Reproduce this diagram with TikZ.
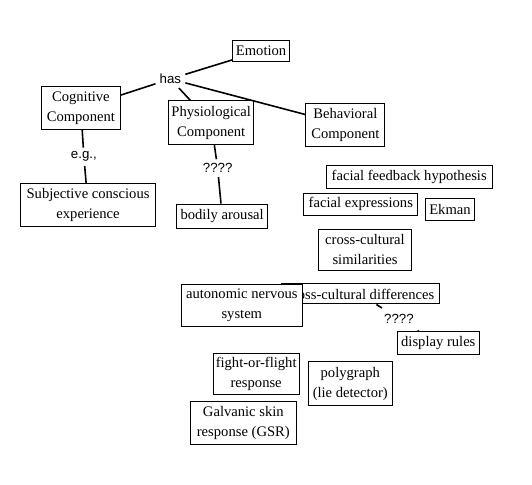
\documentclass[tikz,border=0pt]{standalone}
\usepackage{fontspec}
\setmainfont{Liberation Serif}
\newfontfamily\linkfont{Liberation Sans}
\begin{document}
\begin{tikzpicture}[concept/.style={draw, rectangle, fill=white, line width=0.75pt, align=center, inner sep=2pt, font=\fontsize{11}{15}\selectfont},
  linkword/.style={inner sep=3pt, font=\linkfont\fontsize{10}{12}\selectfont},
  conn/.style={line width=1.2pt}]
\useasboundingbox (0,0) rectangle (14.08,-12.83);
\node[concept, minimum width=1.50cm, minimum height=0.57cm] (emotion) at (6.91,-1.35) {Emotion};
\node[linkword] (has) at (4.51,-2.09) {has};
\node[concept, minimum width=2.10cm, minimum height=1.13cm] (cognitive) at (2.14,-2.86) {Cognitive\\Component};
\node[concept, minimum width=2.22cm, minimum height=1.16cm] (physio) at (5.59,-3.25) {Physiological\\Component};
\node[concept, minimum width=2.09cm, minimum height=1.15cm] (behavior) at (9.14,-3.31) {Behavioral\\Component};
\node[linkword] (eg) at (2.22,-4.15) {e.g.,};
\node[concept, minimum width=3.57cm, minimum height=1.13cm] (subjective) at (2.33,-5.43) {Subjective conscious\\experience};
\node[linkword] (qphysio) at (5.76,-4.45) {????};
\node[concept, minimum width=2.41cm, minimum height=0.64cm] (arousal) at (5.88,-5.72) {bodily arousal};
\node[concept, minimum width=4.40cm, minimum height=0.62cm] (feedback) at (10.83,-4.68) {facial feedback hypothesis};
\node[concept, minimum width=3.01cm, minimum height=0.59cm] (expressions) at (9.55,-5.41) {facial expressions};
\node[concept, minimum width=1.32cm, minimum height=0.59cm] (ekman) at (11.91,-5.54) {Ekman};
\node[concept, minimum width=2.47cm, minimum height=1.08cm] (similar) at (9.66,-6.61) {cross-cultural\\similarities};
\node[concept, minimum width=4.18cm, minimum height=0.53cm] (differ) at (9.54,-7.78) {cross-cultural differences};
\node[concept, minimum width=3.19cm, minimum height=1.10cm] (ans) at (6.40,-8.09) {autonomic nervous\\system};
\node[linkword, minimum height=0.58cm] (qdiffer) at (10.56,-8.45) {????};
\node[concept, minimum width=2.16cm, minimum height=0.60cm] (display) at (11.60,-9.08) {display rules};
\node[concept, minimum width=2.22cm, minimum height=1.08cm] (fight) at (6.78,-9.89) {fight-or-flight\\response};
\node[concept, minimum width=2.23cm, minimum height=1.17cm] (polygraph) at (9.27,-10.16) {polygraph\\(lie detector)};
\node[concept, minimum width=2.79cm, minimum height=1.15cm] (gsr) at (6.44,-11.20) {Galvanic skin\\response (GSR)};
\draw[conn] (emotion) -- (has);
\draw[conn] (has) -- (cognitive);
\draw[conn] (has) -- (physio);
\draw[conn] (has) -- (behavior);
\draw[conn] (cognitive) -- (eg);
\draw[conn] (eg) -- (subjective);
\draw[conn] (physio) -- (qphysio);
\draw[conn] (qphysio) -- (arousal);
\draw[conn] (differ) -- (qdiffer);
\draw[conn] (qdiffer) -- (display);
\end{tikzpicture}
\end{document}
